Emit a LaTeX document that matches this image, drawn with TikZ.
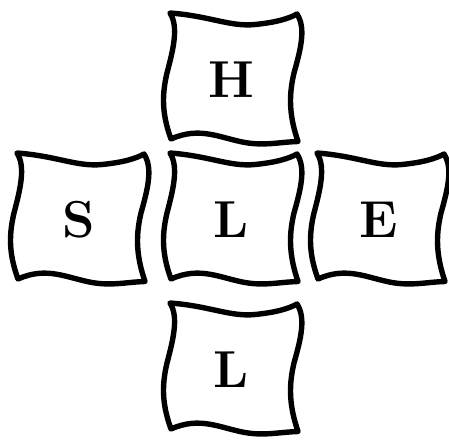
\documentclass[tikz,border=0pt]{standalone}
\usepackage{fontspec}
\setmainfont{Latin Modern Roman}
\tikzset{
  flagline/.style={draw=black, line width=5.4pt, line join=round, line cap=round, fill=white},
  letter/.style={inner sep=0pt, font=\fontsize{52}{56}\selectfont\bfseries},
  flag/.pic={
    \path[flagline]
      (0,0) .. controls (40,3) and (60,14) .. (85,11.5)
            .. controls (105,9.5) and (118,6) .. (127,1)
            .. controls (136,15) and (131,35) .. (124,60)
            .. controls (118,85) and (120,105) .. (128,128.5)
            .. controls (110,129) and (95,133) .. (75,129.5)
            .. controls (50,125) and (30,113) .. (1,126)
            .. controls (-7,104) and (-9,85) .. (-3,60)
            .. controls (3,37) and (9,14) .. (0,0) -- cycle;
  }
}
\begin{document}
\begin{tikzpicture}[x=1pt,y=-1pt]
\useasboundingbox (0,0) rectangle (449,440);
\pic at (170,13) {flag};
\node[letter] (top) at (231.5,80) {H};
\pic at (17,153) {flag};
\node[letter] (left) at (78.5,220) {S};
\pic at (170,153) {flag};
\node[letter] (center) at (231.5,220) {L};
\pic at (317,153) {flag};
\node[letter] (right) at (378.5,220) {E};
\pic at (170,303) {flag};
\node[letter] (bottom) at (231.5,370) {L};
\end{tikzpicture}
\end{document}
